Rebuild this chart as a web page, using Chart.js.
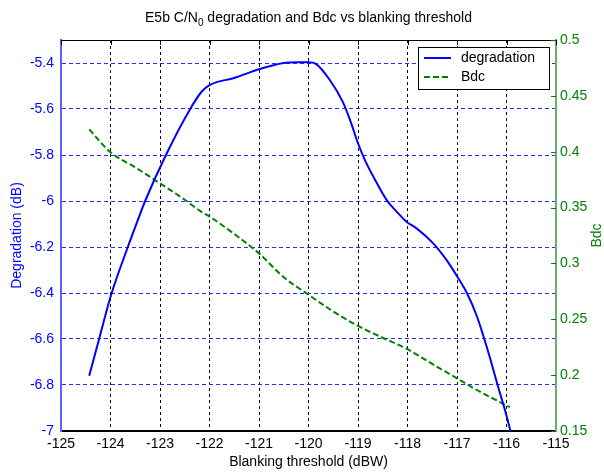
<!DOCTYPE html>
<html>
<head>
<meta charset="utf-8">
<script src="https://cdn.jsdelivr.net/npm/chart.js@4.4.1/dist/chart.umd.min.js"></script>
<style>
  html, body { margin: 0; padding: 0; background: #fff; }
  canvas { display: block; }
</style>
</head>
<body>
<canvas id="chart" width="604" height="473"></canvas>
<script>
// values
const degX = [-124.43, -124.23, -123.99, -123.65, -123.46, -123.3, -122.88, -122.39, -122.16, -122.0,
              -121.5, -121.0, -120.5, -120.25, -120.0, -119.85, -119.57, -119.31, -119.16, -119.0,
              -118.86, -118.69, -118.42, -118.22, -118.02, -117.81, -117.48, -117.21, -116.99, -116.8,
              -116.6, -116.47, -116.33, -116.18, -116.03, -115.92];
const degY = [-6.76, -6.6, -6.41, -6.2, -6.09, -6.0, -5.8, -5.6, -5.525, -5.496,
              -5.465, -5.427, -5.4, -5.397, -5.397, -5.404, -5.474, -5.568, -5.648, -5.749,
              -5.822, -5.894, -5.996, -6.046, -6.09, -6.12, -6.184, -6.257, -6.33, -6.4,
              -6.5, -6.585, -6.685, -6.8, -6.91, -7.0];
const bdcX = [-124.43, -124.0, -123.5, -123.0, -122.5, -122.19, -122.0, -121.52, -121.0, -120.51,
              -120.0, -119.5, -119.0, -118.55, -118.0, -117.5, -117.0, -116.6, -115.93];
const bdcY = [0.42, 0.3995, 0.386, 0.3717, 0.357, 0.347, 0.342, 0.327, 0.309, 0.288,
              0.272, 0.257, 0.244, 0.2345, 0.2232, 0.21, 0.1972, 0.1867, 0.1713];

const xTicks = [-125, -124, -123, -122, -121, -120, -119, -118, -117, -116, -115];
const degTicks = [-7, -6.8, -6.6, -6.4, -6.2, -6, -5.8, -5.6, -5.4];
const bdcTicks = [0.15, 0.2, 0.25, 0.3, 0.35, 0.4, 0.45, 0.5];

const titleParts = ['E5b C/N', '0', ' degradation and Bdc vs blanking threshold'];
const FONT = "'Liberation Sans', Arial, sans-serif";
const BLUE = '#0000ff';
const GREEN = '#008000';

// title with subscript, legend box, top frame, right ticks, right label
const extras = {
  id: 'extras',
  afterDraw(chart) {
    const ctx = chart.ctx;
    const a = chart.chartArea;
    const xs = chart.scales.x;
    const yr = chart.scales.yR;
    ctx.save();

    // top frame line + ticks
    ctx.strokeStyle = '#000';
    ctx.lineWidth = 1;
    ctx.beginPath();
    ctx.moveTo(a.left, a.top + 0.5);
    ctx.lineTo(a.right, a.top + 0.5);
    xTicks.forEach(v => {
      const px = Math.round(xs.getPixelForValue(v)) + 0.5;
      ctx.moveTo(px, a.top);
      ctx.lineTo(px, a.top + 5);
    });
    ctx.stroke();

    // right axis ticks, pointing inwards
    ctx.strokeStyle = GREEN;
    ctx.beginPath();
    bdcTicks.forEach(v => {
      const py = Math.round(yr.getPixelForValue(v)) + 0.5;
      ctx.moveTo(a.right, py);
      ctx.lineTo(a.right - 5, py);
    });
    ctx.stroke();

    // title
    ctx.fillStyle = '#000';
    ctx.textBaseline = 'alphabetic';
    ctx.textAlign = 'left';
    ctx.font = '14px ' + FONT;
    const w0 = ctx.measureText(titleParts[0]).width;
    const w2 = ctx.measureText(titleParts[2]).width;
    ctx.font = '10px ' + FONT;
    const w1 = ctx.measureText(titleParts[1]).width;
    let tx = (a.left + a.right) / 2 - (w0 + w1 + w2) / 2;
    const ty = 22;
    ctx.font = '14px ' + FONT;
    ctx.fillText(titleParts[0], tx, ty);
    ctx.font = '10px ' + FONT;
    ctx.fillText(titleParts[1], tx + w0, ty + 4);
    ctx.font = '14px ' + FONT;
    ctx.fillText(titleParts[2], tx + w0 + w1, ty);

    // right axis label, reading upwards
    ctx.save();
    ctx.translate(597, (a.top + a.bottom) / 2);
    ctx.rotate(-Math.PI / 2);
    ctx.textAlign = 'center';
    ctx.textBaseline = 'middle';
    ctx.fillStyle = GREEN;
    ctx.fillText('Bdc', 0, 0);
    ctx.restore();

    // legend
    const lx = 418, ly = 47, lw = 131, lh = 42;
    ctx.fillStyle = '#fff';
    ctx.fillRect(lx, ly, lw, lh);
    ctx.strokeStyle = '#000';
    ctx.lineWidth = 1;
    ctx.strokeRect(lx + 0.5, ly + 0.5, lw, lh);
    ctx.textAlign = 'left';
    ctx.textBaseline = 'middle';
    chart.data.datasets.forEach((ds, i) => {
      const yy = ly + 11 + i * 19;
      ctx.strokeStyle = ds.borderColor;
      ctx.lineWidth = 2;
      ctx.setLineDash(ds.borderDash || []);
      ctx.beginPath();
      ctx.moveTo(lx + 6, yy);
      ctx.lineTo(lx + 33, yy);
      ctx.stroke();
      ctx.setLineDash([]);
      ctx.fillStyle = '#000';
      ctx.fillText(ds.label, lx + 43, yy);
    });

    ctx.restore();
  }
};

new Chart(document.getElementById('chart'), {
  type: 'line',
  data: {
    datasets: [
      {
        label: 'degradation',
        data: degX.map((x, i) => ({x: x, y: degY[i]})),
        yAxisID: 'yL',
        borderColor: BLUE,
        borderWidth: 2,
        pointRadius: 0,
        cubicInterpolationMode: 'monotone',
        fill: false,
      },
      {
        label: 'Bdc',
        data: bdcX.map((x, i) => ({x: x, y: bdcY[i]})),
        yAxisID: 'yR',
        borderColor: GREEN,
        borderWidth: 2,
        borderDash: [6, 3],
        pointRadius: 0,
        cubicInterpolationMode: 'monotone',
        fill: false,
      }
    ]
  },
  options: {
    responsive: false,
    animation: false,
    devicePixelRatio: 1,
    layout: { padding: { top: 40, left: 0, right: 0, bottom: 0 } },
    plugins: {
      legend: { display: false },
      title: { display: false },
      tooltip: { enabled: false }
    },
    scales: {
      x: {
        type: 'linear',
        min: -125,
        max: -115,
        afterBuildTicks: s => { s.ticks = xTicks.map(v => ({value: v})); },
        afterFit: s => { s.height = 42; },
        ticks: {
          color: '#000',
          padding: 5,
          maxRotation: 0,
          autoSkip: false,
          font: { family: FONT, size: 14 },
          callback: v => String(v)
        },
        grid: {
          drawTicks: false,
          lineWidth: 1,
          color: c => (c.index === 0 || c.index === xTicks.length - 1) ? 'rgba(0,0,0,0)' : '#000'
        },
        border: { color: '#000', width: 2, dash: [3, 3] },
        title: {
          display: true,
          text: 'Blanking threshold (dBW)',
          color: '#000',
          font: { family: FONT, size: 14 },
          padding: { top: 0, bottom: 2 }
        }
      },
      yL: {
        type: 'linear',
        position: 'left',
        min: -7,
        max: -5.3,
        afterBuildTicks: s => { s.ticks = degTicks.map(v => ({value: v})); },
        afterFit: s => { s.width = 61; },
        ticks: {
          color: BLUE,
          padding: 7,
          autoSkip: false,
          font: { family: FONT, size: 14 },
          callback: v => String(v)
        },
        grid: {
          drawTicks: false,
          lineWidth: 1,
          color: c => c.index === 0 ? 'rgba(0,0,0,0)' : '#2a2aff'
        },
        border: { color: '#6060ff', width: 2, dash: [4, 3] },
        title: {
          display: true,
          text: 'Degradation (dB)',
          color: BLUE,
          font: { family: FONT, size: 14 },
          padding: { top: 9, bottom: 0 }
        }
      },
      yR: {
        type: 'linear',
        position: 'right',
        min: 0.15,
        max: 0.5,
        afterBuildTicks: s => { s.ticks = bdcTicks.map(v => ({value: v})); },
        afterFit: s => { s.width = 48; },
        ticks: {
          color: GREEN,
          padding: 4,
          autoSkip: false,
          font: { family: FONT, size: 14 },
          callback: v => String(v)
        },
        grid: { display: false, drawOnChartArea: false, drawTicks: false },
        border: { color: '#66b366', width: 2 }
      }
    }
  },
  plugins: [extras]
});
</script>
</body>
</html>
